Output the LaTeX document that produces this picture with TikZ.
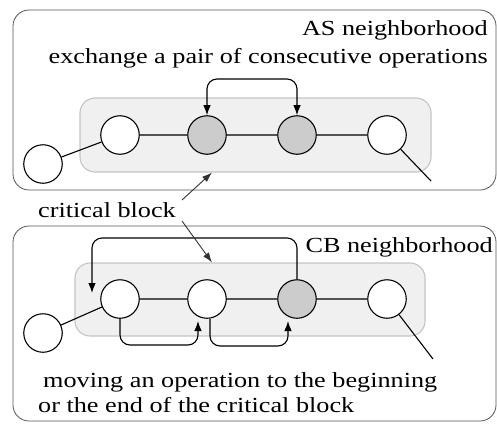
\documentclass[tikz,border=0pt]{standalone}
\usepackage{fontspec}
\setmainfont{Liberation Serif}[FakeStretch=1.22]
\usetikzlibrary{arrows.meta,calc}
\definecolor{blockfill}{HTML}{F0F0F0}
\definecolor{blockline}{HTML}{C4C4C4}
\definecolor{critfill}{HTML}{CCCCCC}
\definecolor{frameline}{HTML}{555555}
\begin{document}
\begin{tikzpicture}[x=1pt,y=-1pt,
  every node/.style={font=\fontsize{21.5}{24}\selectfont},
  frame/.style={draw=frameline,line width=0.8pt,rounded corners=16pt,inner sep=0pt},
  blockbox/.style={draw=blockline,fill=blockfill,line width=1.1pt,rounded corners=15pt,inner sep=0pt},
  op/.style={circle,draw,line width=1.1pt,fill=white,minimum size=38.5pt,inner sep=0pt},
  critop/.style={op,fill=critfill},
  link/.style={line width=1.1pt},
  move/.style={line width=1.1pt,rounded corners=10pt,-{Latex[length=10pt,width=7.5pt]}},
  swap/.style={move,{Latex[length=10pt,width=7.5pt]}-{Latex[length=10pt,width=7.5pt]}},
  pointer/.style={draw=black!80,line width=0.9pt,-{Latex[length=10pt,width=7pt]}}]
\useasboundingbox (0,0) rectangle (497,423);

% frames of the two neighborhoods
\node[frame,minimum width=483pt,minimum height=180pt] (asframe) at (254.5,100) {};
\node[frame,minimum width=483pt,minimum height=195pt] (cbframe) at (254.5,323.5) {};

% critical blocks
\node[blockbox,minimum width=351pt,minimum height=74pt] (asblock) at (255.5,135) {};
\node[blockbox,minimum width=350pt,minimum height=73pt] (cbblock) at (250,299.5) {};

% AS neighborhood: operations
\node[op] (a0) at (43,164) {};
\node[op] (a1) at (120,135) {};
\node[critop] (a2) at (207,135) {};
\node[critop] (a3) at (297,135) {};
\node[op] (a4) at (387,135) {};
\coordinate (aend) at (431,181);
\draw[link] (a0) -- (a1) (a1) -- (a2) (a2) -- (a3) (a3) -- (a4) (a4) -- (aend);
\draw[swap] (a2.north) -- (a2.north |- 0,79) -- (a3.north |- 0,79) -- (a3.north);

% CB neighborhood: operations
\node[op] (b0) at (43,333) {};
\node[op] (b1) at (120,299) {};
\node[op] (b2) at (207,299) {};
\node[critop] (b3) at (297,299) {};
\node[op] (b4) at (387,299) {};
\coordinate (bend) at (433,359);
\draw[link] (b0) -- (b1) (b1) -- (b2) (b2) -- (b3) (b3) -- (b4) (b4) -- (bend);
\coordinate (tofront) at (92,293);
\draw[move] (b3.north) -- (b3.north |- 0,238) -- (tofront |- 0,238) -- (tofront);
\coordinate (tob2) at ($(b2.center)+(-9,22)$);
\coordinate (tob3) at ($(b3.center)+(-9,22)$);
\coordinate (b2out) at ($(b2.south)+(3,0)$);
\draw[move] (b1.south) -- (b1.south |- 0,345) -- (tob2 |- 0,345) -- (tob2);
\draw[move] (b2out) -- (b2out |- 0,346) -- (tob3 |- 0,346) -- (tob3);

% texts
\node[anchor=base east,inner sep=0pt] (astitle) at (488,35) {AS neighborhood};
\node[anchor=base east,inner sep=0pt] (asdesc) at (488,63) {exchange a pair of consecutive operations};
\node[anchor=base east,inner sep=0pt] (cbtitle) at (493,252) {CB neighborhood};
\node[anchor=base west,inner sep=0pt] (cbdesc1) at (43,387) {moving an operation to the beginning};
\node[anchor=base west,inner sep=0pt] (cbdesc2) at (38,412) {or the end of the critical block};
\node[anchor=base west,inner sep=0pt] (crit) at (38,217) {critical block};

% pointers from the label to both blocks
\coordinate (critup) at (182,200);
\coordinate (critdown) at (182,221);
\draw[pointer] (critup) -- (asblock.south -| 212,0);
\draw[pointer] (critdown) -- (cbblock.north -| 212,0);
\end{tikzpicture}
\end{document}
